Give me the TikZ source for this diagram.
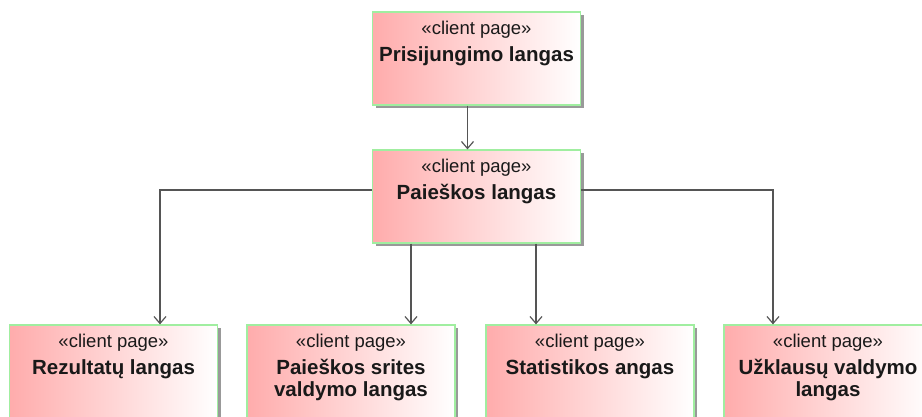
\documentclass[tikz,border=0pt]{standalone}
\usepackage{fontspec}
\setmainfont{Liberation Sans}
\usetikzlibrary{arrows.meta,shadows}
\definecolor{pagered}{RGB}{255,172,172}
\definecolor{pageline}{RGB}{160,238,160}
\definecolor{connline}{RGB}{85,85,85}
\newcommand{\pgname}[1]{{\fontsize{20.5}{22}\selectfont\bfseries #1}}
\begin{document}
\begin{tikzpicture}[x=1pt,y=-1pt,
  page/.style={draw=pageline,line width=1.2pt,left color=pagered,right color=white,
    minimum width=208pt,minimum height=93pt,inner sep=0pt,
    drop shadow={shadow xshift=3pt,shadow yshift=-3pt,fill=black!40,opacity=1}},
  pagetext/.style={anchor=north,align=center,inner sep=0pt,
    font=\fontsize{18.5}{22}\selectfont,text=black!90},
  conn/.style={draw=connline,line width=1.2pt,-{Straight Barb[length=7pt,width=12pt,line width=1.2pt]}}]
\clip (0,0) rectangle (922,416);
\node[page] (login) at (476.5,58.5) {};
\node[pagetext] (logintxt) at ([yshift=-9pt]login.north) {«client page»\\[5pt]\pgname{Prisijungimo langas}};
\node[page] (search) at (476.5,196.5) {};
\node[pagetext] (searchtxt) at ([yshift=-9pt]search.north) {«client page»\\[5pt]\pgname{Paieškos langas}};
\node[page] (result) at (113.5,371.5) {};
\node[pagetext] (resulttxt) at ([yshift=-9pt]result.north) {«client page»\\[5pt]\pgname{Rezultatų langas}};
\node[page] (area) at (351,371.5) {};
\node[pagetext] (areatxt) at ([yshift=-9pt]area.north) {«client page»\\[5pt]\pgname{Paieškos srites}\\\pgname{valdymo langas}};
\node[page] (stats) at (590,371.5) {};
\node[pagetext] (statstxt) at ([yshift=-9pt]stats.north) {«client page»\\[5pt]\pgname{Statistikos angas}};
\node[page] (queries) at (828,371.5) {};
\node[pagetext] (queriestxt) at ([yshift=-9pt]queries.north) {«client page»\\[5pt]\pgname{Užklausų valdymo}\\\pgname{langas}};
%\draw[conn] (login) -- (search);
\draw[conn] ([xshift=-9pt]login.south) -- ([xshift=-9pt]search.north);
\draw[conn] ([yshift=6.5pt]search.west) -| ([xshift=46.5pt]result.north);
\draw[conn] ([xshift=-65.5pt]search.south) -- ([xshift=60pt]area.north);
\draw[conn] ([xshift=59.5pt]search.south) -- ([xshift=-54pt]stats.north);
\draw[conn] ([yshift=6.5pt]search.east) -| ([xshift=-55pt]queries.north);
\end{tikzpicture}
\end{document}
